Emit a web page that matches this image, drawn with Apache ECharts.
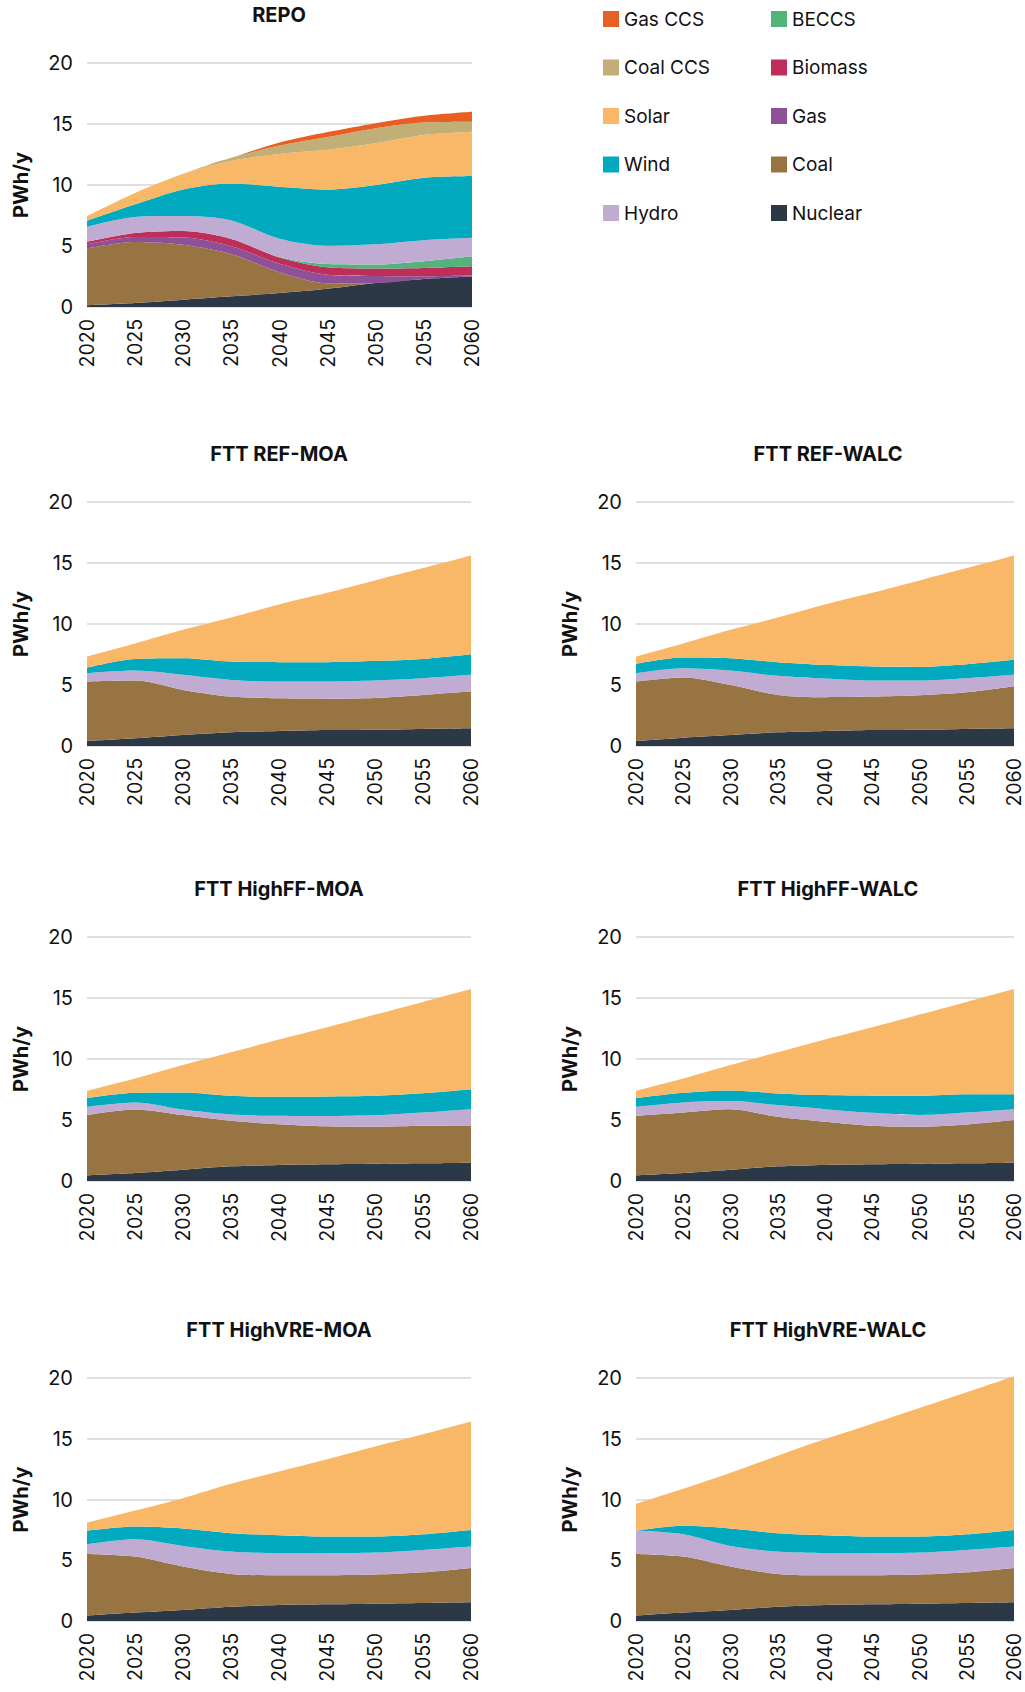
<!DOCTYPE html>
<html>
<head>
<meta charset="utf-8">
<script src="https://cdn.jsdelivr.net/npm/echarts@6/dist/echarts.min.js"></script>
<style>
html,body{margin:0;padding:0;background:#fff;}
#chart{width:1025px;height:1692px;}
</style>
</head>
<body>
<div id="chart"></div>
<script>
// ---- Data ----
const years = ['2020','2025','2030','2035','2040','2045','2050','2055','2060'];
const yTicks = [0, 5, 10, 15, 20];
const seriesNames = ['Nuclear','Coal','Gas','Biomass','BECCS','Hydro','Wind','Solar','Coal CCS','Gas CCS'];
const panelTitles = ['REPO','FTT REF-MOA','FTT REF-WALC','FTT HighFF-MOA','FTT HighFF-WALC','FTT HighVRE-MOA','FTT HighVRE-WALC'];

// REPO (PWh/y, stacked layers)
const repoNuclear = [0.15, 0.33, 0.60, 0.88, 1.15, 1.50, 1.97, 2.30, 2.50];
const repoCoal    = [4.65, 5.00, 4.50, 3.45, 1.70, 0.45, 0.00, 0.00, 0.00];
const repoGas     = [0.32, 0.40, 0.60, 0.65, 0.70, 0.70, 0.58, 0.22, 0.08];
const repoBiomass = [0.22, 0.33, 0.52, 0.60, 0.50, 0.60, 0.60, 0.68, 0.76];
const repoBECCS   = [0.00, 0.00, 0.00, 0.00, 0.05, 0.27, 0.33, 0.55, 0.82];
const repoHydro   = [1.24, 1.32, 1.23, 1.52, 1.50, 1.51, 1.67, 1.73, 1.51];
const repoWind    = [0.49, 1.04, 2.19, 3.02, 4.26, 4.60, 4.85, 5.12, 5.07];
const repoSolar   = [0.38, 0.93, 1.26, 1.86, 2.69, 3.26, 3.42, 3.50, 3.62];
const repoCoalCCS = [0.00, 0.00, 0.02, 0.25, 0.68, 1.04, 1.24, 1.02, 0.82];
const repoGasCCS  = [0.00, 0.00, 0.00, 0.00, 0.25, 0.41, 0.41, 0.55, 0.82];

// FTT REF-MOA
const refMoaNuclear = [0.41, 0.63, 0.90, 1.12, 1.23, 1.31, 1.34, 1.40, 1.45];
const refMoaCoal    = [4.87, 4.73, 3.70, 2.93, 2.68, 2.57, 2.60, 2.79, 3.01];
const refMoaHydro   = [0.68, 0.82, 1.23, 1.37, 1.37, 1.40, 1.42, 1.36, 1.37];
const refMoaWind    = [0.47, 0.96, 1.37, 1.50, 1.59, 1.59, 1.62, 1.59, 1.69];
const refMoaSolar   = [0.90, 1.26, 2.32, 3.61, 4.73, 5.69, 6.59, 7.44, 8.10];

// FTT REF-WALC
const refWalcNuclear = [0.41, 0.68, 0.90, 1.12, 1.23, 1.31, 1.34, 1.40, 1.45];
const refWalcCoal    = [4.87, 4.93, 4.10, 3.07, 2.77, 2.74, 2.82, 3.00, 3.45];
const refWalcHydro   = [0.68, 0.76, 1.18, 1.56, 1.53, 1.31, 1.20, 1.15, 0.93];
const refWalcWind    = [0.77, 0.88, 1.02, 1.12, 1.12, 1.15, 1.12, 1.15, 1.23];
const refWalcSolar   = [0.60, 1.15, 2.32, 3.66, 4.95, 6.05, 7.09, 7.88, 8.56];

// FTT HighFF-MOA
const ffMoaNuclear = [0.47, 0.66, 0.93, 1.20, 1.32, 1.37, 1.42, 1.45, 1.50];
const ffMoaCoal    = [4.93, 5.20, 4.47, 3.73, 3.34, 3.12, 3.02, 3.07, 3.05];
const ffMoaHydro   = [0.68, 0.58, 0.46, 0.52, 0.68, 0.83, 0.96, 1.10, 1.34];
const ffMoaWind    = [0.71, 0.79, 1.40, 1.54, 1.56, 1.61, 1.59, 1.58, 1.64];
const ffMoaSolar   = [0.61, 1.18, 2.25, 3.56, 4.69, 5.67, 6.65, 7.48, 8.20];

// FTT HighFF-WALC
const ffWalcNuclear = [0.47, 0.66, 0.93, 1.20, 1.32, 1.37, 1.42, 1.45, 1.50];
const ffWalcCoal    = [4.87, 4.96, 4.96, 4.06, 3.53, 3.15, 3.02, 3.18, 3.49];
const ffWalcHydro   = [0.74, 0.82, 0.66, 0.96, 1.04, 1.07, 0.98, 0.99, 0.90];
const ffWalcWind    = [0.71, 0.79, 0.87, 0.96, 1.15, 1.40, 1.57, 1.50, 1.23];
const ffWalcSolar   = [0.61, 1.18, 2.09, 3.37, 4.55, 5.61, 6.65, 7.56, 8.61];

// FTT HighVRE-MOA
const vreMoaNuclear = [0.44, 0.69, 0.91, 1.18, 1.32, 1.37, 1.43, 1.48, 1.54];
const vreMoaCoal    = [5.08, 4.61, 3.57, 2.69, 2.44, 2.39, 2.39, 2.53, 2.83];
const vreMoaHydro   = [0.80, 1.43, 1.70, 1.84, 1.82, 1.82, 1.81, 1.84, 1.76];
const vreMoaWind    = [1.10, 1.04, 1.43, 1.52, 1.48, 1.37, 1.32, 1.29, 1.37];
const vreMoaSolar   = [0.68, 1.32, 2.50, 4.06, 5.25, 6.37, 7.42, 8.24, 8.93];

// FTT HighVRE-WALC
const vreWalcNuclear = [0.44, 0.69, 0.91, 1.18, 1.32, 1.37, 1.43, 1.48, 1.54];
const vreWalcCoal    = [5.08, 4.61, 3.57, 2.69, 2.44, 2.39, 2.39, 2.53, 2.83];
const vreWalcHydro   = [1.90, 1.84, 1.70, 1.84, 1.82, 1.82, 1.81, 1.84, 1.76];
const vreWalcWind    = [0.00, 0.69, 1.43, 1.52, 1.48, 1.37, 1.32, 1.29, 1.37];
const vreWalcSolar   = [2.22, 3.05, 4.59, 6.37, 7.91, 9.29, 10.58, 11.68, 12.64];

// ---- Styling ----
const colors = {
  'Nuclear':'#2D3847', 'Coal':'#987443', 'Gas':'#8E5198', 'Biomass':'#BF2E59',
  'BECCS':'#52B47A', 'Hydro':'#C0ABD3', 'Wind':'#01AABE', 'Solar':'#F8B868',
  'Coal CCS':'#C2AF78', 'Gas CCS':'#E95E23'
};
const FONT = 'Inter, "Noto Sans", sans-serif';

const panelData = [
  {Nuclear:repoNuclear, Coal:repoCoal, Gas:repoGas, Biomass:repoBiomass, BECCS:repoBECCS, Hydro:repoHydro, Wind:repoWind, Solar:repoSolar, 'Coal CCS':repoCoalCCS, 'Gas CCS':repoGasCCS},
  {Nuclear:refMoaNuclear, Coal:refMoaCoal, Hydro:refMoaHydro, Wind:refMoaWind, Solar:refMoaSolar},
  {Nuclear:refWalcNuclear, Coal:refWalcCoal, Hydro:refWalcHydro, Wind:refWalcWind, Solar:refWalcSolar},
  {Nuclear:ffMoaNuclear, Coal:ffMoaCoal, Hydro:ffMoaHydro, Wind:ffMoaWind, Solar:ffMoaSolar},
  {Nuclear:ffWalcNuclear, Coal:ffWalcCoal, Hydro:ffWalcHydro, Wind:ffWalcWind, Solar:ffWalcSolar},
  {Nuclear:vreMoaNuclear, Coal:vreMoaCoal, Hydro:vreMoaHydro, Wind:vreMoaWind, Solar:vreMoaSolar},
  {Nuclear:vreWalcNuclear, Coal:vreWalcCoal, Hydro:vreWalcHydro, Wind:vreWalcWind, Solar:vreWalcSolar}
];

// layout: [gridLeft, gridTop, gridWidth, gridHeight, titleCenterX, titleTop]
const layout = [
  [87, 63, 385, 244, 279, 5],
  [87, 502, 384, 244, 279, 444],
  [636, 502, 378, 244, 828, 444],
  [87, 937, 384, 244, 279, 879],
  [636, 937, 378, 244, 828, 879],
  [87, 1378, 384, 243, 279, 1320],
  [636, 1378, 378, 243, 828, 1320]
];

const grids = [], xAxes = [], yAxes = [], titles = [], series = [];
layout.forEach((L, i) => {
  grids.push({left:L[0], top:L[1], width:L[2], height:L[3]});
  titles.push({text: panelTitles[i], left: L[4], top: L[5], textAlign:'center', padding:0,
    textStyle:{fontFamily:FONT, fontSize:20, fontWeight:'bold', color:'#111'}});
  xAxes.push({type:'category', gridIndex:i, data:years, boundaryGap:false,
    axisLine:{show:false}, axisTick:{show:false},
    axisLabel:{rotate:90, fontFamily:FONT, fontSize:19.5, lineHeight:15, color:'#111', margin:12, interval:0}});
  yAxes.push({type:'value', gridIndex:i, min:yTicks[0], max:yTicks[yTicks.length-1], interval:yTicks[1]-yTicks[0],
    name:'PWh/y', nameLocation:'middle', nameGap:56, nameRotate:90,
    nameTextStyle:{fontFamily:FONT, fontSize:20, fontWeight:'bold', color:'#111'},
    axisLine:{show:false}, axisTick:{show:false},
    axisLabel:{fontFamily:FONT, fontSize:20, color:'#111', margin:14},
    splitLine:{lineStyle:{color:'#d6d6d6', width:1.5}}});
  seriesNames.forEach(name => {
    const d = panelData[i][name];
    if (!d) return;
    series.push({
      name: name, type:'line', xAxisIndex:i, yAxisIndex:i, stack:'s'+i, data:d,
      smooth:0.3, symbol:'none', showSymbol:false, clip:false,
      color: colors[name],
      lineStyle:{width:0}, areaStyle:{color:colors[name], opacity:1},
      emphasis:{disabled:true}
    });
  });
});

const legendCommon = {
  orient:'vertical', icon:'rect', itemWidth:16, itemHeight:16, itemGap:28.5, padding:0,
  textStyle:{fontFamily:FONT, fontSize:19, color:'#111', lineHeight:20},
  selectedMode:false
};

const option = {
  animation:false,
  backgroundColor:'#ffffff',
  title: titles,
  legend: [
    Object.assign({}, legendCommon, {left:603, top:9, data:['Gas CCS','Coal CCS','Solar','Wind','Hydro']}),
    Object.assign({}, legendCommon, {left:771, top:9, data:['BECCS','Biomass','Gas','Coal','Nuclear']})
  ],
  grid: grids,
  xAxis: xAxes,
  yAxis: yAxes,
  series: series
};

const chart = echarts.init(document.getElementById('chart'), null, {renderer:'svg'});
chart.setOption(option);
</script>
</body>
</html>
